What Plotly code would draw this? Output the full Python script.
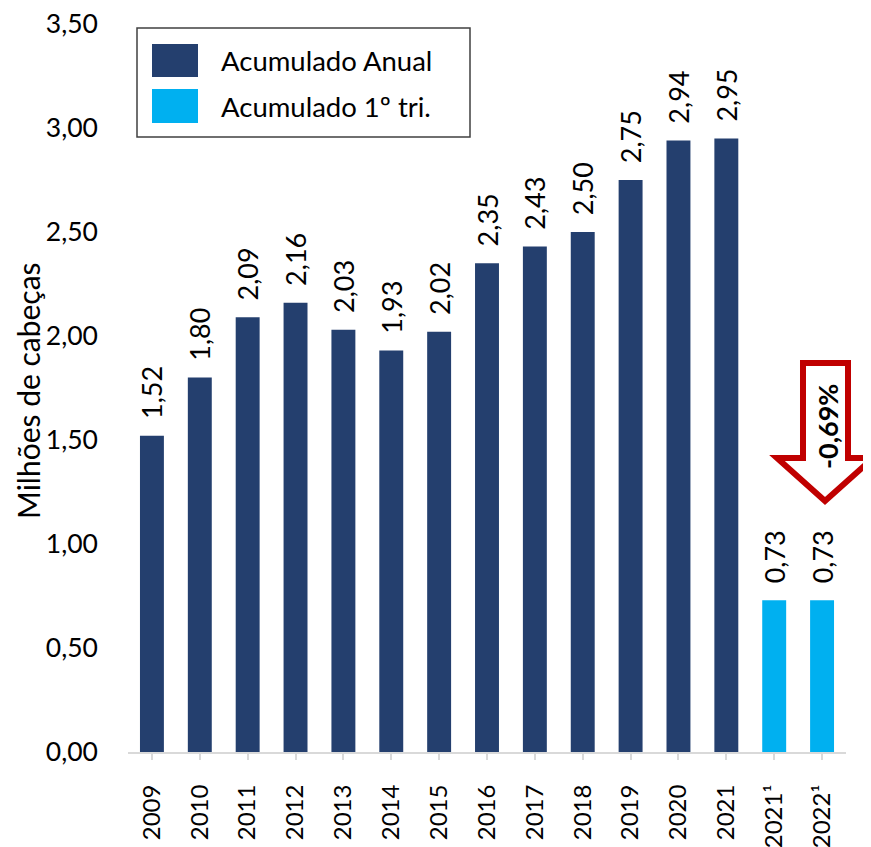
import plotly.graph_objects as go

# ---- data ----
annual_years = ["2009", "2010", "2011", "2012", "2013", "2014", "2015",
                "2016", "2017", "2018", "2019", "2020", "2021"]
annual_values = [1.52, 1.80, 2.09, 2.16, 2.03, 1.93, 2.02,
                 2.35, 2.43, 2.50, 2.75, 2.94, 2.95]
q1_years = ["2021¹", "2022¹"]
q1_values = [0.73, 0.73]
series_names = ["Acumulado Anual", "Acumulado 1º tri."]
y_title = "Milhões de cabeças"
change_label = "-0,69%"

# ---- style ----
DARK = "#243F6E"
LIGHT = "#00B0F0"
RED = "#C00000"
FONT = "Lato, 'Open Sans', sans-serif"
FS = 27

OFF = 8  # page body margin
W, H = 871 - OFF, 847 - OFF
# plot area in screen pixels: x 128..846, y 24..752
L = 128 - OFF
T = 24 - OFF
R = W - (846 - OFF)
B = H - (752 - OFF)
PW, PH = W - L - R, H - T - B


def px(x):
    return (x - OFF - L) / PW


def py(y):
    return (H - B - (y - OFF)) / PH


fig = go.Figure()
fig.add_trace(go.Bar(
    x=annual_years, y=annual_values, name=series_names[0],
    marker=dict(color=DARK, line=dict(width=0)),
    texttemplate="\u00a0\u00a0%{y:.2f}", textposition="outside", textangle=-90,
    constraintext="none",
    textfont=dict(family=FONT, size=FS, color="black"),
    cliponaxis=False, showlegend=False,
))
fig.add_trace(go.Bar(
    x=q1_years, y=q1_values, name=series_names[1],
    marker=dict(color=LIGHT, line=dict(width=0)),
    texttemplate="\u00a0\u00a0%{y:.2f}", textposition="outside", textangle=-90,
    constraintext="none",
    textfont=dict(family=FONT, size=FS, color="black"),
    cliponaxis=False, showlegend=False,
))

shapes = []
annotations = []

# custom legend
shapes.append(dict(type="rect", xref="paper", yref="paper",
                   x0=px(137), x1=px(470), y0=py(28), y1=py(137),
                   line=dict(color="#404040", width=1.5), fillcolor="white"))
for i, (name, col) in enumerate(zip(series_names, [DARK, LIGHT])):
    y0 = [44, 89][i]
    y1 = [77, 123][i]
    shapes.append(dict(type="rect", xref="paper", yref="paper",
                       x0=px(152), x1=px(198), y0=py(y0), y1=py(y1),
                       line=dict(width=0), fillcolor=col))
    annotations.append(dict(text=name, xref="paper", yref="paper",
                            x=px(219), y=py((y0 + y1) / 2),
                            xanchor="left", yanchor="middle", showarrow=False,
                            font=dict(family=FONT, size=27.5, color="black")))

# arrow
pts = [(803, 363), (848, 363), (848, 458), (873, 458), (825, 501),
       (777, 458), (803, 458)]
path = "M " + " L ".join(f"{px(x):.5f},{py(y):.5f}" for x, y in pts) + " Z"
shapes.append(dict(type="path", xref="paper", yref="paper", path=path,
                   line=dict(color=RED, width=6), fillcolor="white"))
annotations.append(dict(text=f"<b>{change_label}</b>", xref="paper", yref="paper",
                        x=px(827), y=py(426), textangle=-90,
                        xanchor="center", yanchor="middle", showarrow=False,
                        font=dict(family=FONT, size=27, color="black")))

# y title
annotations.append(dict(text=y_title, xref="paper", yref="paper",
                        x=px(28), y=py(391), textangle=-90,
                        xanchor="center", yanchor="middle", showarrow=False,
                        font=dict(family=FONT, size=30, color="black")))

fig.update_layout(
    width=W, height=H,
    margin=dict(l=L, r=R, t=T, b=B, pad=0, autoexpand=False),
    paper_bgcolor="white", plot_bgcolor="white",
    barmode="overlay", bargap=0.5,
    separators=",.",
    shapes=shapes, annotations=annotations,
    showlegend=False,
    font=dict(family=FONT, size=FS, color="black"),
)
fig.update_xaxes(
    type="category", categoryorder="array",
    categoryarray=annual_years + q1_years,
    tickangle=-90, ticks="outside", ticklen=6, tickwidth=1.5,
    tickcolor="#D9D9D9", showline=True, linecolor="#D9D9D9", linewidth=2,
    showgrid=False, tickfont=dict(family=FONT, size=24, color="black"),
    ticklabelstandoff=15, automargin=False, ticklabeloverflow="allow",
)
fig.update_yaxes(
    range=[0, 3.5], dtick=0.5, tick0=0, tickformat=".2f",
    showgrid=False, showline=False, zeroline=False, ticks="",
    tickfont=dict(family=FONT, size=26.5, color="black"),
    ticklabelstandoff=29, automargin=False, ticklabeloverflow="allow",
)

fig.write_html("out.html")
